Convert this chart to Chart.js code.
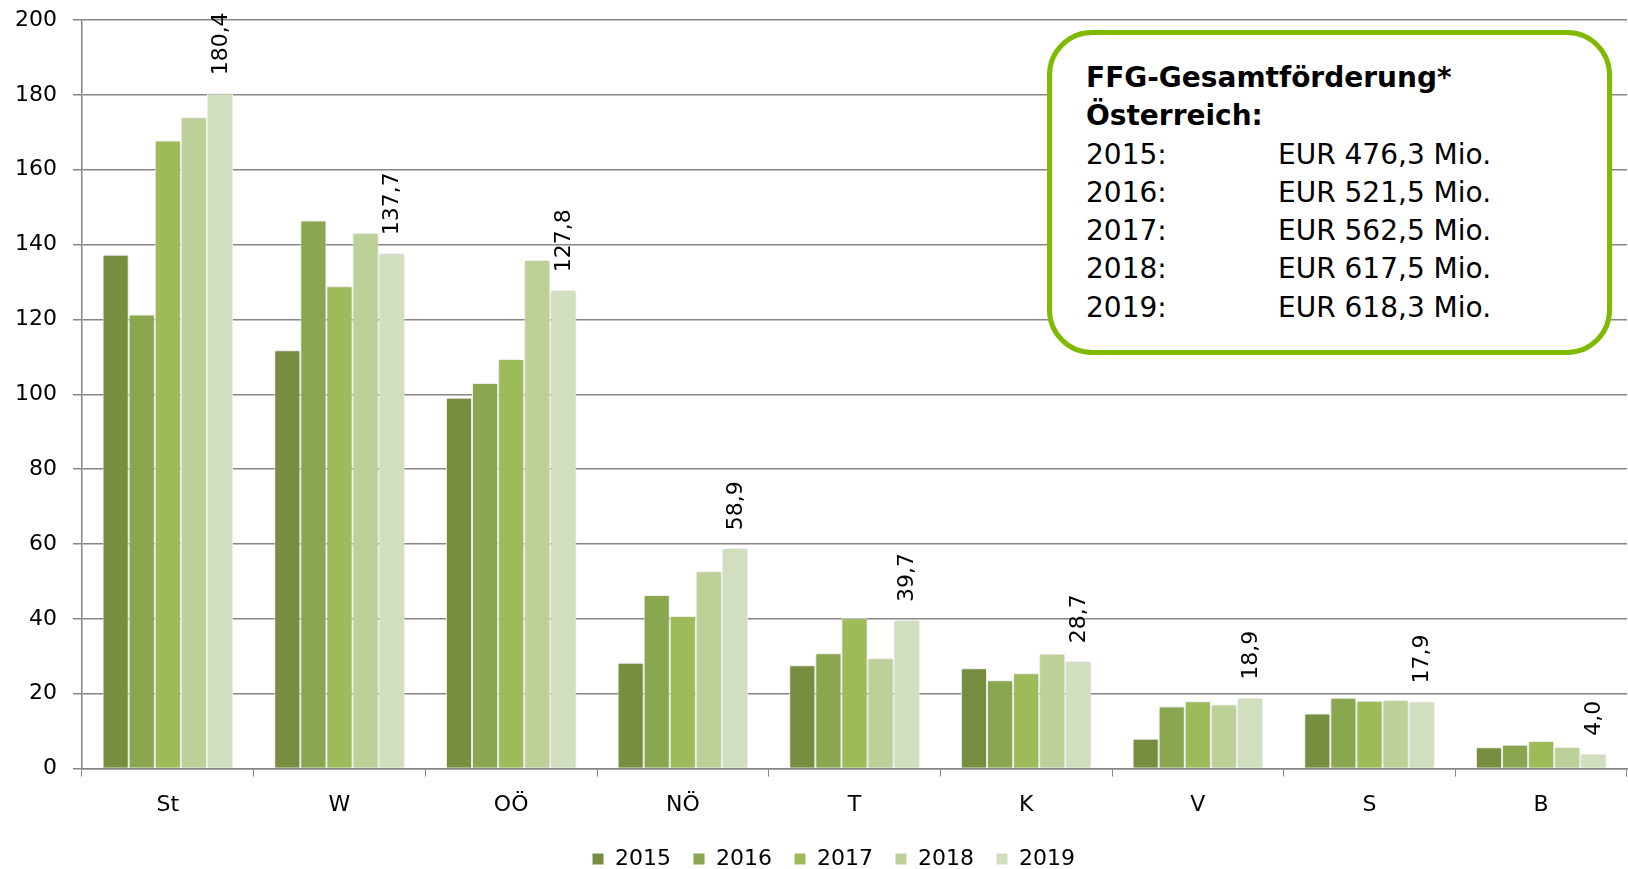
<!DOCTYPE html>
<html lang="de">
<head>
<meta charset="utf-8">
<title>FFG Förderung nach Bundesländern</title>
<script src="https://cdn.jsdelivr.net/npm/chart.js@4.4.1/dist/chart.umd.min.js"></script>
<style>
    html, body { margin: 0; padding: 0; background: #fff; }
    #wrap { position: relative; width: 1628px; height: 869px; }
    #infobox {
        position: absolute;
        left: 1047px; top: 30px;
        width: 555px; height: 315px;
        border: 5px solid #7fba00;
        border-radius: 45px;
        background: #fff;
        font-family: 'DejaVu Sans', sans-serif;
        font-size: 28px;
        line-height: 38.3px;
        color: #000;
    }
    #infobox .inner { position: absolute; left: 34px; top: 24px; white-space: nowrap; }
    #infobox .titel { font-weight: bold; }
    #infobox .zeile span { display: inline-block; width: 192px; }
</style>
</head>
<body>
<div id="wrap">
    <canvas id="grafico" width="1628" height="869"></canvas>
    <div id="infobox"><div class="inner" id="infoInner"></div></div>
</div>
<script>
// Bundesländer
const laender = ['St', 'W', 'OÖ', 'NÖ', 'T', 'K', 'V', 'S', 'B'];
const jahre = ['2015', '2016', '2017', '2018', '2019'];

// FFG-Förderung in Mio. EUR
const werte2015 = [137.3, 111.8, 99.1, 28.3, 27.6, 26.8, 8.0, 14.7, 5.7];
const werte2016 = [121.3, 146.4, 103.0, 46.4, 30.8, 23.6, 16.6, 18.9, 6.4];
const werte2017 = [167.8, 128.9, 109.4, 40.8, 40.2, 25.5, 18.0, 18.1, 7.4];
const werte2018 = [174.0, 143.1, 135.9, 52.7, 29.5, 30.7, 17.1, 18.3, 5.8];
const werte2019 = [180.4, 137.7, 127.8, 58.9, 39.7, 28.7, 18.9, 17.9, 4.0];

const farben = ['#778e40', '#8aa64e', '#9dbb59', '#bcd098', '#d1dfbf'];

// Gesamtförderung Österreich
const gesamtTitel = ['FFG-Gesamtförderung*', 'Österreich:'];
const gesamtWerte = ['EUR 476,3 Mio.', 'EUR 521,5 Mio.', 'EUR 562,5 Mio.', 'EUR 617,5 Mio.', 'EUR 618,3 Mio.'];

const yTicks = [0, 20, 40, 60, 80, 100, 120, 140, 160, 180, 200];

// Infobox füllen
const inner = document.getElementById('infoInner');
gesamtTitel.forEach(t => {
    const d = document.createElement('div');
    d.className = 'titel';
    d.textContent = t;
    inner.appendChild(d);
});
jahre.forEach((j, i) => {
    const d = document.createElement('div');
    d.className = 'zeile';
    const s = document.createElement('span');
    s.textContent = j + ':';
    d.appendChild(s);
    d.appendChild(document.createTextNode(gesamtWerte[i]));
    inner.appendChild(d);
});

Chart.defaults.font.family = "'DejaVu Sans', sans-serif";
Chart.defaults.font.size = 22;
Chart.defaults.color = '#000';

const alleWerte = [werte2015, werte2016, werte2017, werte2018, werte2019];
const grau = '#868686';

// Beschriftung nur für 2019, senkrecht
const labels2019 = {
    id: 'labels2019',
    afterDatasetsDraw(chart) {
        const ctx = chart.ctx;
        const meta = chart.getDatasetMeta(4);
        ctx.save();
        ctx.font = "22px 'DejaVu Sans', sans-serif";
        ctx.fillStyle = '#000';
        ctx.textAlign = 'left';
        ctx.textBaseline = 'middle';
        meta.data.forEach((bar, i) => {
            ctx.save();
            ctx.translate(bar.x + 1, bar.y - 18);
            ctx.rotate(-Math.PI / 2);
            ctx.fillText(werte2019[i].toFixed(1).replace('.', ','), 0, 0);
            ctx.restore();
        });
        ctx.restore();
    }
};

// leichter Schatten um die Balken
const schatten = {
    id: 'schatten',
    beforeDatasetsDraw(chart) {
        chart.ctx.save();
        chart.ctx.shadowColor = 'rgba(0,0,0,0.18)';
        chart.ctx.shadowBlur = 4;
    },
    afterDatasetsDraw(chart) {
        chart.ctx.restore();
    }
};

// Legende etwas nach rechts
const legendeVerschieben = {
    id: 'legendeVerschieben',
    afterLayout(chart) {
        chart.legend.left += 20;
        chart.legend.right += 20;
    }
};

const ctx = document.getElementById('grafico');

const chart = new Chart(ctx, {
    type: 'bar',
    data: {
        labels: laender,
        datasets: jahre.map((j, i) => ({
            label: j,
            data: alleWerte[i],
            backgroundColor: farben[i],
            borderColor: '#ffffff',
            borderWidth: 1,
            categoryPercentage: 0.76,
            barPercentage: 1
        }))
    },
    plugins: [schatten, labels2019, legendeVerschieben],
    options: {
        responsive: false,
        animation: false,
        layout: {
            padding: { top: 20, right: 1, left: 0, bottom: -11 }
        },
        scales: {
            x: {
                afterFit: axis => { axis.height -= 7; },
                grid: {
                    display: true,
                    drawOnChartArea: false,
                    drawTicks: true,
                    tickLength: 8,
                    color: grau
                },
                border: { color: grau, width: 1.5 },
                ticks: { padding: 15, font: { size: 22 } }
            },
            y: {
                min: 0,
                max: 200,
                afterBuildTicks: axis => {
                    axis.ticks = yTicks.map(v => ({ value: v }));
                },
                afterFit: axis => {
                    axis.width = 82;
                    axis.paddingTop = 0;
                    axis.paddingBottom = 0;
                },
                grid: {
                    color: grau,
                    lineWidth: 1.5,
                    tickLength: 9
                },
                border: { color: grau, width: 1.5 },
                ticks: { padding: 16, font: { size: 22 } }
            }
        },
        plugins: {
            legend: {
                position: 'bottom',
                labels: {
                    boxWidth: 12,
                    boxHeight: 12,
                    padding: 22,
                    font: { size: 22 }
                }
            },
            tooltip: { enabled: false }
        }
    }
});
</script>
</body>
</html>
